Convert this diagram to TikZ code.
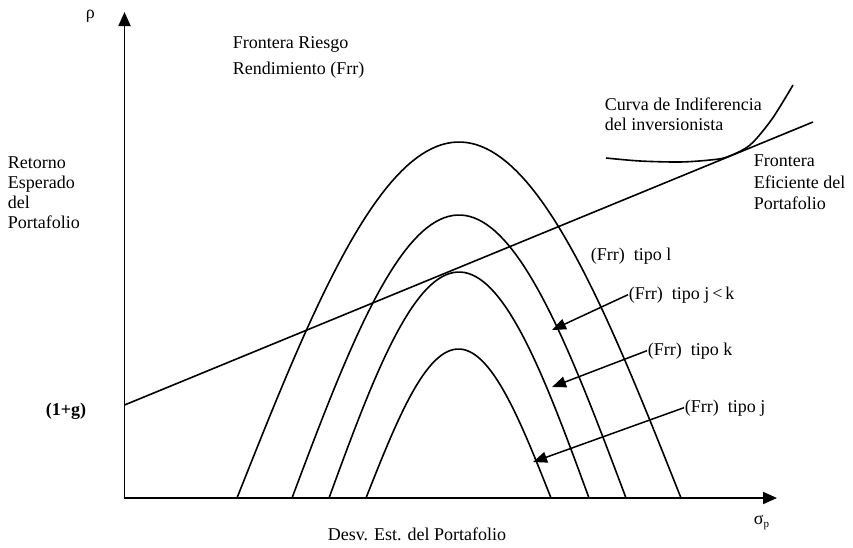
\documentclass[tikz,border=0pt]{standalone}
\usepackage{fontspec}
\setmainfont{Liberation Serif}
\usetikzlibrary{arrows.meta}
\begin{document}
\begin{tikzpicture}[x=1pt,y=-1pt,line width=1.6pt,
  lbl/.style={inner sep=0pt,anchor=north west,align=left,font=\fontsize{18}{20.5}\selectfont},
  txt/.style={inner sep=0pt,anchor=base west,font=\fontsize{18}{20.5}\selectfont},
  ptr/.style={-{Triangle[length=14pt,width=11pt]},line width=1.5pt},
  axis/.style={{Triangle[length=14pt,width=12pt]}-{Triangle[length=14pt,width=12pt]},line width=1.8pt}]
\useasboundingbox (0,0) rectangle (853,547);
% axes
\coordinate (O) at (124.5,498);
\coordinate (ytip) at (124.5,12);
\coordinate (xtip) at (777,498);
\draw[axis] (ytip) -- (O) -- (xtip);
% risk-return frontiers (arches)
\draw plot[domain=237:681,samples=90] (\x,{498-356*cos((\x-459)/222*90)});
\draw plot[domain=292:626,samples=80] (\x,{498-283*cos((\x-459)/167*90)});
\draw plot[domain=329:589,samples=70] (\x,{498-226*cos((\x-459)/130*90)});
\draw plot[domain=366:551,samples=60] (\x,{498-149*cos((\x-458.5)/92.5*90)});
% efficient frontier line
\coordinate (g) at (124.5,405);
\coordinate (Lend) at (813,122);
\draw (g) -- (Lend);
% indifference curve
\draw plot[smooth] coordinates {(606,158) (640,161) (680,162) (710,160) (727,157) (750,145) (772,119) (793,85)};
% labels
\node[txt] (rho) at (85,18) {ρ};
\node[txt] (sig) at (753,524) {σ\raisebox{-3pt}{\fontsize{11}{12}\selectfont p}};
\node[txt] (desv) at (327,540) {Desv. Est. del Portafolio};
\node[txt,font=\fontsize{18}{20.5}\selectfont\bfseries] (onepg) at (45,415) {(1+g)};
\node[lbl,font=\fontsize{18}{26}\selectfont] (frr) at (232,36) {Frontera Riesgo\\Rendimiento (Frr)};
\node[lbl,font=\fontsize{18}{20}\selectfont] (ret) at (7,156) {Retorno\\Esperado\\del\\Portafolio};
\node[lbl] (curva) at (604,97) {Curva de Indiferencia\\del inversionista};
\node[lbl,font=\fontsize{18}{21.5}\selectfont] (fef) at (753,154) {Frontera\\Eficiente del\\Portafolio};
\node[txt] (tl) at (590,260) {(Frr)~ tipo l};
\node[txt] (tjk) at (628,299) {(Frr)~ tipo j\,<\,k};
\node[txt] (tk) at (647,355) {(Frr)~ tipo k};
\node[txt] (tj) at (684,412) {(Frr)~ tipo j};
% pointers
\coordinate (a1) at (552,330);
\coordinate (a2) at (552,387);
\coordinate (a3) at (533,462);
\draw[ptr] (tjk.west) -- (a1);
\draw[ptr] (tk.west) -- (a2);
\draw[ptr] (tj.west) -- (a3);
\end{tikzpicture}
\end{document}
